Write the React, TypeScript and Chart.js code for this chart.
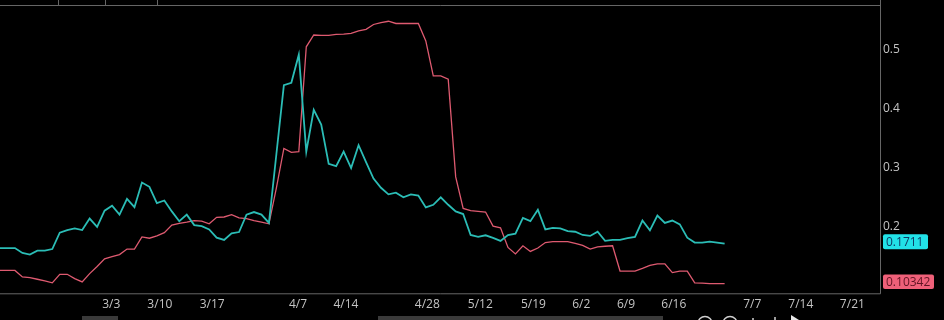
import React, { useEffect, useRef } from "react";
import { Chart, registerables } from "chart.js";

Chart.register(...registerables);

// Daily index series (index 0 = left edge of the visible window)
const cyanValues = [
  0.1637, 0.1637, 0.1637, 0.1553, 0.1525, 0.1592, 0.1592, 0.162, 0.1897, 0.1942,
  0.197, 0.1942, 0.2137, 0.1997, 0.227, 0.2353, 0.2203, 0.247, 0.233, 0.2747,
  0.2675, 0.2397, 0.2442, 0.2258, 0.2092, 0.2203, 0.2025, 0.2008, 0.1953, 0.1813,
  0.1775, 0.1887, 0.1908, 0.2203, 0.2247, 0.2203, 0.2063, 0.323, 0.4397, 0.4437,
  0.4913, 0.327, 0.398, 0.373, 0.3063, 0.3025, 0.327, 0.2992, 0.338, 0.3092,
  0.2813, 0.2658, 0.2547, 0.2575, 0.2497, 0.2547, 0.2525, 0.2325, 0.237, 0.2497,
  0.237, 0.2258, 0.2213, 0.1858, 0.1825, 0.1853, 0.1808, 0.1758, 0.1858, 0.188,
  0.2147, 0.2092, 0.2287, 0.1953, 0.198, 0.197, 0.1925, 0.1913, 0.1858, 0.1842,
  0.1913, 0.1758, 0.1775, 0.1775, 0.1803, 0.1825, 0.2103, 0.1937, 0.2187, 0.2063,
  0.2103, 0.2037, 0.1813, 0.173, 0.173, 0.1747, 0.173, 0.1711,
];

const redValues = [
  0.1258, 0.1258, 0.1258, 0.1147, 0.1137, 0.1108, 0.108, 0.1047, 0.1192, 0.1192,
  0.112, 0.1063, 0.1203, 0.1325, 0.1453, 0.1492, 0.1525, 0.162, 0.162, 0.1825,
  0.1803, 0.1842, 0.1897, 0.2025, 0.2053, 0.2075, 0.2103, 0.2092, 0.2047, 0.2158,
  0.2163, 0.2203, 0.2147, 0.2137, 0.2103, 0.2075, 0.2047, 0.2658, 0.3325, 0.3258,
  0.327, 0.5047, 0.5247, 0.5242, 0.5242, 0.5258, 0.5263, 0.5275, 0.5317, 0.5342,
  0.5425, 0.5458, 0.548, 0.5442, 0.5442, 0.5442, 0.5442, 0.5147, 0.4553, 0.4553,
  0.4497, 0.2842, 0.2308, 0.227, 0.2258, 0.2247, 0.2008, 0.198, 0.1647, 0.1537,
  0.1675, 0.158, 0.1637, 0.173, 0.1747, 0.1747, 0.1747, 0.1717, 0.1683, 0.162,
  0.1658, 0.1667, 0.1675, 0.1247, 0.1247, 0.1247, 0.1292, 0.1342, 0.137, 0.137,
  0.122, 0.1247, 0.1247, 0.1047, 0.1042, 0.10342, 0.10342, 0.10342,
];

const xTickPositions = [14.9, 21.4, 28.4, 39.9, 46.3, 57.2, 64.3, 71.4, 77.8, 83.8, 90.2, 100.7, 107.2, 114.1];
const xTickLabels = ["3/3", "3/10", "3/17", "4/7", "4/14", "4/28", "5/12", "5/19", "6/2", "6/9", "6/16", "7/7", "7/14", "7/21"];
const yTickValues = [0.2, 0.3, 0.4, 0.5];
const cyanLastLabel = "0.1711";
const redLastLabel = "0.10342";

const X_MIN = 0;
const X_MAX = 117.8;
const Y_MIN = 0.087;
const Y_MAX = 0.5667;

const FONT = "'Open Sans', 'Noto Sans', sans-serif";

const decorPlugin = {
  id: "decor",
  afterDraw(chart: any) {
    const ctx = chart.ctx as CanvasRenderingContext2D;
    const { right, bottom } = chart.chartArea;
    const yScale = chart.scales.y;
    ctx.save();
    // frame lines
    ctx.strokeStyle = "#666666";
    ctx.lineWidth = 1;
    ctx.beginPath();
    ctx.moveTo(0, 5.5);
    ctx.lineTo(right + 0.5, 5.5);
    ctx.moveTo(right + 0.5, 0);
    ctx.lineTo(right + 0.5, bottom + 0.5);
    ctx.moveTo(0, bottom + 0.5);
    ctx.lineTo(right + 0.5, bottom + 0.5);
    [58.5, 105.5, 157.5].forEach((x) => {
      ctx.moveTo(x, 0);
      ctx.lineTo(x, 5.5);
    });
    ctx.stroke();

    // last value badges
    const badge = (val: number, text: string, bg: string, fg: string, w: number, h: number) => {
      const cy = yScale.getPixelForValue(val) - 1.8;
      const x = right + 3;
      const y = cy - h / 2;
      ctx.fillStyle = bg;
      ctx.beginPath();
      if ((ctx as any).roundRect) (ctx as any).roundRect(x, y, w, h, 2);
      else ctx.rect(x, y, w, h);
      ctx.fill();
      ctx.fillStyle = fg;
      ctx.font = `12px ${FONT}`;
      ctx.textAlign = "left";
      ctx.textBaseline = "middle";
      ctx.fillText(text, x + 3, cy + 0.5);
    };
    badge(parseFloat(cyanLastLabel), cyanLastLabel, "#22e2e8", "#0f3a63", 45, 15);
    badge(parseFloat(redLastLabel), redLastLabel, "#ef6079", "#611423", 51, 14.5);

    // bottom scrollbar pieces
    ctx.fillStyle = "#3a3a3a";
    ctx.fillRect(82, 316, 36, 4);
    ctx.fillRect(378, 316, 285, 4);

    // bottom toolbar icons (partially visible)
    ctx.strokeStyle = "#cfcfcf";
    ctx.lineWidth = 1.5;
    ctx.beginPath();
    ctx.arc(705, 323.5, 7, 0, Math.PI * 2);
    ctx.stroke();
    ctx.beginPath();
    ctx.arc(730, 323.5, 7, 0, Math.PI * 2);
    ctx.stroke();
    ctx.beginPath();
    ctx.moveTo(753, 318);
    ctx.lineTo(753, 320);
    ctx.moveTo(775, 320);
    ctx.lineTo(775, 317);
    ctx.stroke();
    ctx.fillStyle = "#e8e8e8";
    ctx.beginPath();
    ctx.moveTo(791, 315);
    ctx.lineTo(799, 320);
    ctx.lineTo(791, 320);
    ctx.closePath();
    ctx.fill();
    ctx.restore();
  },
};

export default function App() {
  const canvasRef = useRef<HTMLCanvasElement | null>(null);

  useEffect(() => {
    if (!canvasRef.current) return;
    const chart = new Chart(canvasRef.current, {
      type: "line",
      data: {
        datasets: [
          {
            data: cyanValues.map((v, i) => ({ x: i, y: v })),
            borderColor: "#2bbdb6",
            borderWidth: 1.8,
            pointRadius: 0,
            tension: 0,
          },
          {
            data: redValues.map((v, i) => ({ x: i, y: v })),
            borderColor: "#de5a70",
            borderWidth: 1.3,
            pointRadius: 0,
            tension: 0,
          },
        ],
      },
      options: {
        animation: false,
        responsive: false,
        devicePixelRatio: 1,
        layout: { padding: { top: 5.5, left: 0, right: 0, bottom: 0 } },
        plugins: {
          legend: { display: false },
          tooltip: { enabled: false },
        },
        events: [],
        scales: {
          x: {
            type: "linear",
            min: X_MIN,
            max: X_MAX,
            grid: { display: false, drawTicks: false },
            border: { display: false },
            afterBuildTicks: (scale: any) => {
              scale.ticks = xTickPositions.map((v) => ({ value: v }));
            },
            afterFit: (scale: any) => {
              scale.height = 26.7;
            },
            ticks: {
              autoSkip: false,
              maxRotation: 0,
              padding: 4,
              color: "#c4c4c4",
              font: { size: 12, family: FONT },
              callback: (_v: any, i: number) => xTickLabels[i],
            },
          },
          y: {
            position: "right",
            min: Y_MIN,
            max: Y_MAX,
            grid: { display: false, drawTicks: false },
            border: { display: false },
            afterBuildTicks: (scale: any) => {
              scale.ticks = yTickValues.map((v) => ({ value: v }));
            },
            afterFit: (scale: any) => {
              scale.width = 64;
            },
            ticks: {
              crossAlign: "near",
              padding: 3,
              color: "#c4c4c4",
              font: { size: 12, family: FONT },
              callback: (v: any) => Number(v).toFixed(1),
            },
          },
        },
      },
      plugins: [decorPlugin],
    } as any);
    return () => chart.destroy();
  }, []);

  return (
    <div
      style={{
        position: "fixed",
        left: 0,
        top: 0,
        width: 944,
        height: 320,
        background: "#000",
      }}
    >
      <canvas ref={canvasRef} width={944} height={320} style={{ display: "block" }} />
    </div>
  );
}
